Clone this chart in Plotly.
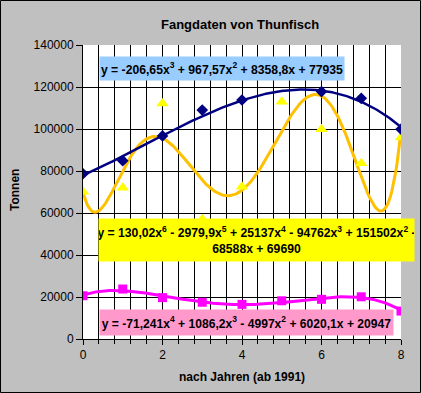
import numpy as np
import plotly.graph_objects as go

# ---- data ----
years = [0, 1, 2, 3, 4, 5, 6, 7, 8]
blue_x = [0, 1, 2, 3, 4, 6, 7, 8]
blue_y = [78700, 84900, 96700, 109000, 113800, 117800, 114600, 99900]
yellow_y = [70100, 72000, 112200, 57000, 72500, 113000, 99900, 83700, 96000]
pink_y = [20600, 23800, 19700, 17500, 16500, 18200, 18900, 20100, 13300]

# trendline coefficients as displayed in the chart (highest power first)
blue_coef = [-206.65, 967.57, 8358.8, 77935]
yellow_coef = [130.02, -2979.9, 25137, -94762, 151502, -68588, 69690]
pink_coef = [-71.241, 1086.2, -4997, 6020.1, 20947]

blue_eq = "y = -206,65x<sup>3</sup> + 967,57x<sup>2</sup> + 8358,8x + 77935"
yellow_eq = ("y = 130,02x<sup>6</sup> - 2979,9x<sup>5</sup> + 25137x<sup>4</sup> - 94762x<sup>3</sup> + 151502x<sup>2</sup> -"
             "<br>68588x + 69690")
pink_eq = "y = -71,241x<sup>4</sup> + 1086,2x<sup>3</sup> - 4997x<sup>2</sup> + 6020,1x + 20947"

title = "Fangdaten von Thunfisch"
x_title = "nach Jahren (ab 1991)"
y_title = "Tonnen"

W, H = 421, 393
L, R, T, B = 83, 20, 45, 54
PW, PH = W - L - R, H - T - B

def px(xp):
    return (xp - L) / PW

def py(yp):
    return (H - B - yp) / PH

xs = np.linspace(0, 8, 241)

fig = go.Figure()
fig.add_trace(go.Scatter(x=xs, y=np.polyval(yellow_coef, xs), mode="lines",
                         line=dict(color="#FFC000", width=3), hoverinfo="skip"))
fig.add_trace(go.Scatter(x=xs, y=np.polyval(blue_coef, xs), mode="lines",
                         line=dict(color="#000080", width=2.5), hoverinfo="skip"))
fig.add_trace(go.Scatter(x=xs, y=np.polyval(pink_coef, xs), mode="lines",
                         line=dict(color="#FF00FF", width=3), hoverinfo="skip"))
fig.add_trace(go.Scatter(x=years, y=yellow_y, mode="markers",
                         marker=dict(symbol="triangle-up", size=11, color="#FFFF00")))
fig.add_trace(go.Scatter(x=blue_x, y=blue_y, mode="markers",
                         marker=dict(symbol="diamond", size=9, color="#000080")))
fig.add_trace(go.Scatter(x=years, y=pink_y, mode="markers",
                         marker=dict(symbol="square", size=9, color="#FF00FF")))

font = "Liberation Sans, Arial, sans-serif"

def box(text, x0, x1, y0, y1, color, size=12):
    fig.add_annotation(xref="paper", yref="paper",
                       x=px((x0 + x1) / 2), y=py((y0 + y1) / 2),
                       xanchor="center", yanchor="middle",
                       width=x1 - x0, height=y1 - y0, borderpad=0,
                       text=text, showarrow=False, align="center",
                       bgcolor=color, font=dict(family=font, size=size, color="black"))

box("<b>" + blue_eq + "</b>", 100, 344, 57, 80, "#99CCFF", 12.2)
box("<b>" + yellow_eq.replace("<br>", "</b><br><b>") + "</b>", 99, 414, 219, 261, "#FFFF00", 12.2)
box("<b>" + pink_eq + "</b>", 100, 393, 310, 335, "#FF99CC", 12.1)

fig.add_annotation(xref="paper", yref="paper", x=px(240), y=py(25),
                   xanchor="center", yanchor="middle", showarrow=False,
                   text="<b>" + title + "</b>", font=dict(family=font, size=13, color="black"))
fig.add_annotation(xref="paper", yref="paper", x=px(242), y=py(377),
                   xanchor="center", yanchor="middle", showarrow=False,
                   text="<b>" + x_title + "</b>", font=dict(family=font, size=12, color="black"))
fig.add_annotation(xref="paper", yref="paper", x=px(15), y=py(190),
                   xanchor="center", yanchor="middle", showarrow=False, textangle=-90,
                   text="<b>" + y_title + "</b>", font=dict(family=font, size=12, color="black"))

# outer border
fig.add_shape(type="rect", xref="paper", yref="paper",
              x0=px(0.5), x1=px(W - 0.5), y0=py(H - 0.5), y1=py(0.5),
              line=dict(color="black", width=1), layer="above")

fig.update_layout(
    width=W, height=H,
    margin=dict(l=L, r=R, t=T, b=B),
    paper_bgcolor="#C0C0C0", plot_bgcolor="white",
    showlegend=False,
    font=dict(family=font, size=12, color="black"),
    xaxis=dict(range=[0, 8], dtick=2, tick0=0, showgrid=True, gridcolor="black", gridwidth=1,
               showline=True, linecolor="black", linewidth=1, zeroline=False,
               ticks="outside", ticklen=5, tickcolor="black",
               minor=dict(dtick=0.4, tick0=0, showgrid=True, gridcolor="black", gridwidth=1,
                          ticks="outside", ticklen=4, tickcolor="black"),
               tickfont=dict(size=12), fixedrange=True),
    yaxis=dict(range=[0, 140000], dtick=20000, tick0=0, tickformat="d",
               showgrid=True, gridcolor="black", gridwidth=1,
               showline=True, linecolor="black", linewidth=1, zeroline=False,
               ticks="outside", ticklen=6, tickcolor="black",
               tickfont=dict(size=12), fixedrange=True),
)

fig.write_html("out.html", config={"displayModeBar": False},
               post_script="document.body.style.margin='0px';document.body.style.padding='0px';")
